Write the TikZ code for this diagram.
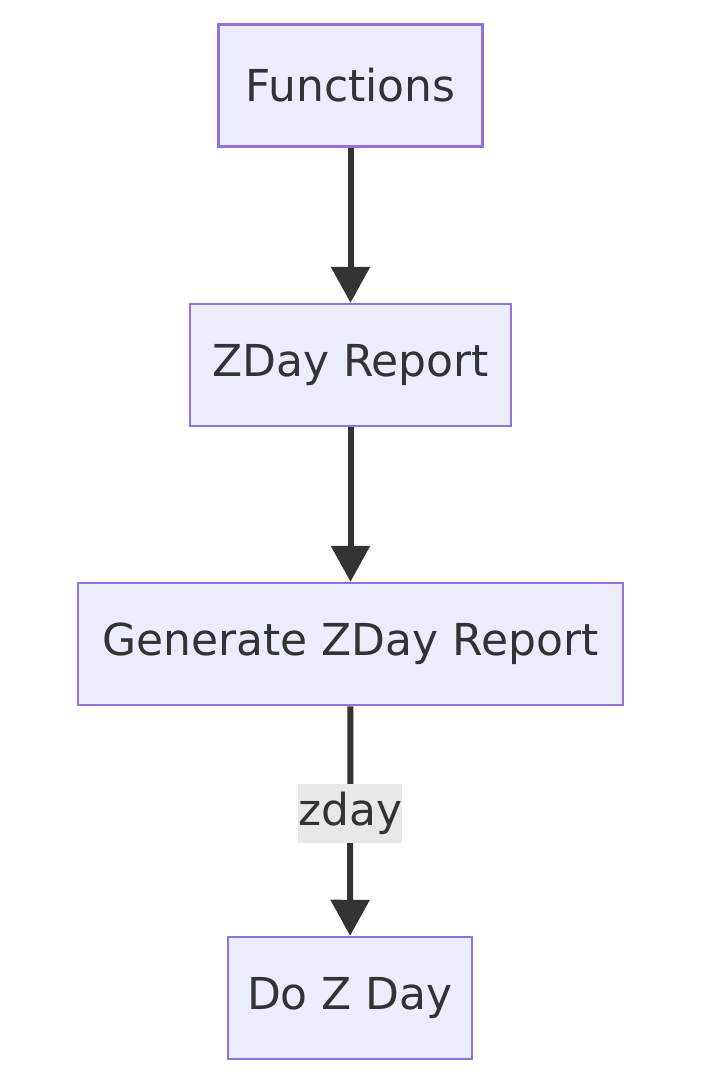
\documentclass[tikz,border=0pt]{standalone}
\usepackage{fontspec}
\setmainfont{DejaVu Sans}
\usetikzlibrary{arrows.meta}
\definecolor{nodefill}{HTML}{ECECFF}
\definecolor{nodeborder}{HTML}{9370DB}
\definecolor{darkgrey}{HTML}{333333}
\definecolor{labelbg}{HTML}{E8E8E8}
\begin{document}
\begin{tikzpicture}[x=1pt,y=-1pt,
  flowbox/.style={draw=nodeborder, fill=nodefill, line width=2.5pt, minimum height=122pt,
    inner sep=0pt, text=darkgrey, font=\fontsize{44}{50}\selectfont},
  flowarrow/.style={draw=darkgrey, line width=6pt, -{Triangle[length=36pt,width=38pt]}},
  edgelabel/.style={fill=labelbg, text=darkgrey, inner sep=0pt, minimum width=103pt,
    minimum height=59pt, font=\fontsize{44}{50}\selectfont}]
\useasboundingbox (0,0) rectangle (701,1085);
\node[flowbox, minimum width=264pt] (A) at (350.5,85.5) {Functions};
\node[flowbox, minimum width=321pt] (B) at (350.5,365) {ZDay Report};
\node[flowbox, minimum width=545pt] (C) at (350.5,644) {Generate ZDay Report};
\node[flowbox, minimum width=244pt] (D) at (350,998) {Do Z Day};
\draw[flowarrow] (A) -- (B);
\draw[flowarrow] (B) -- (C);
\draw[flowarrow] (C) -- node[edgelabel, pos=0.468] (L) {zday} (D);
\end{tikzpicture}
\end{document}
